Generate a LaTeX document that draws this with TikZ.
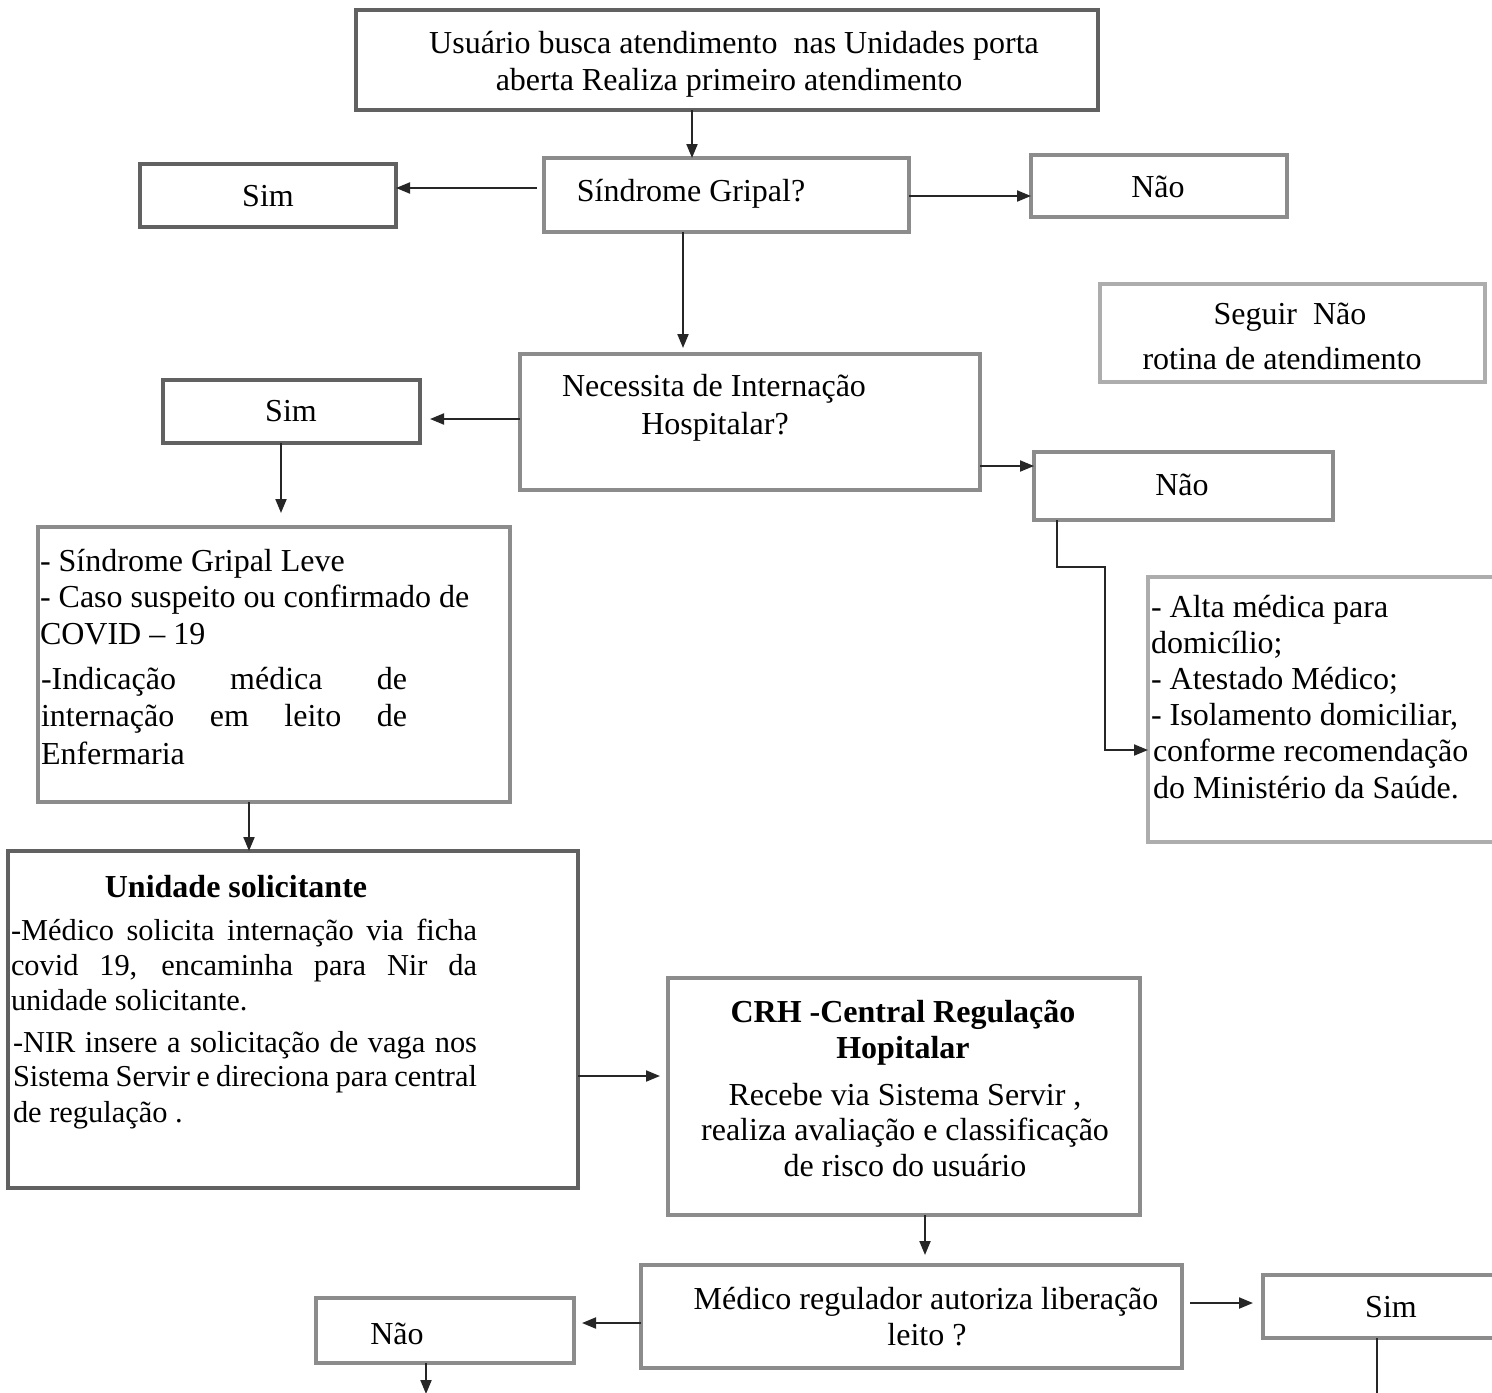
\documentclass[tikz,border=0pt]{standalone}
\usepackage{fontspec}
\setmainfont{Liberation Serif}
\usetikzlibrary{fit,arrows.meta}
\definecolor{bdark}{gray}{0.38}
\definecolor{bgray}{gray}{0.55}
\definecolor{blight}{gray}{0.68}
\tikzset{
  box/.style={draw=bgray, line width=2pt, inner sep=0pt, outer sep=0pt},
  boxd/.style={box, draw=bdark},
  boxl/.style={box, draw=blight},
  txt/.style={inner sep=0pt, outer sep=0pt, font=\fontsize{16}{18}\selectfont},
  stxt/.style={txt, font=\fontsize{15.2}{18}\selectfont},
  btxt/.style={txt, font=\fontsize{16}{18}\selectfont\bfseries},
  arr/.style={draw=black!85, line width=1pt, -{Triangle[length=7pt,width=5.5pt]}},
  ln/.style={draw=black!85, line width=1pt}
}
\begin{document}
\begin{tikzpicture}[x=0.5pt,y=-0.5pt]
\useasboundingbox (0,0) rectangle (1492,1392);
\clip (0,0) rectangle (1492,1392);
% boxes
\node[boxd, fit={(356,10)(1098,110)}] (top) {};
\node[box, fit={(544,158)(909,232)}] (sg) {};
\node[boxd, fit={(140,164)(396,227)}] (sim1) {};
\node[box, fit={(1031,155)(1287,217)}] (nao1) {};
\node[boxl, fit={(1100,284)(1485,382)}] (seg) {};
\node[box, fit={(520,354)(980,490)}] (nec) {};
\node[boxd, fit={(163,380)(420,443)}] (sim2) {};
\node[box, fit={(1034,452)(1333,520)}] (nao2) {};
\node[box, fit={(38,527)(510,802)}] (sgl) {};
\node[boxl, fit={(1148,577)(1510,842)}] (alta) {};
\node[boxd, fit={(8,851)(578,1188)}] (uni) {};
\node[box, fit={(668,978)(1140,1215)}] (crh) {};
\node[box, fit={(641,1265)(1182,1368)}] (med) {};
\node[box, fit={(316,1298)(574,1363)}] (nao3) {};
\node[box, fit={(1263,1275)(1510,1338)}] (sim3) {};
% texts
\node[txt, anchor=base] (t1a) at (734,54) {Usuário busca atendimento\ \ nas Unidades porta};
\node[txt, anchor=base] (t1b) at (729,90) {aberta Realiza primeiro atendimento};
\node[txt, anchor=base] (tsg) at (691,201) {Síndrome Gripal?};
\node[txt, anchor=base] (tsim1) at (268,206) {Sim};
\node[txt, anchor=base] (tnao1) at (1158,197) {Não};
\node[txt, anchor=base] (tseg1) at (1290,324) {Seguir\ \ Não};
\node[txt, anchor=base] (tseg2) at (1282,369) {rotina de atendimento};
\node[txt, anchor=base] (tnec1) at (714,396) {Necessita de Internação};
\node[txt, anchor=base] (tnec2) at (715,434) {Hospitalar?};
\node[txt, anchor=base] (tsim2) at (291,421) {Sim};
\node[txt, anchor=base] (tnao2) at (1182,495) {Não};
\node[txt, anchor=base west] (tsgl1) at (40,571) {- Síndrome Gripal Leve};
\node[txt, anchor=base west] (tsgl2) at (40,607) {- Caso suspeito ou confirmado de};
\node[txt, anchor=base west] (tsgl3) at (40,644) {COVID – 19};
\node[txt, anchor=base west] (tsgl4) at (41,689) {\makebox[183pt][s]{-Indicação médica de}};
\node[txt, anchor=base west] (tsgl5) at (41,726) {\makebox[183pt][s]{internação em leito de}};
\node[txt, anchor=base west] (tsgl6) at (41,764) {Enfermaria};
\node[txt, anchor=base west] (ta1) at (1151,617) {- Alta médica para};
\node[txt, anchor=base west] (ta2) at (1151,653) {domicílio;};
\node[txt, anchor=base west] (ta3) at (1151,689) {- Atestado Médico;};
\node[txt, anchor=base west] (ta4) at (1151,725) {- Isolamento domiciliar,};
\node[txt, anchor=base west] (ta5) at (1153,761) {conforme recomendação};
\node[txt, anchor=base west] (ta6) at (1153,798) {do Ministério da Saúde.};
\node[btxt, anchor=base] (tu0) at (236,897) {Unidade solicitante};
\node[stxt, anchor=base west] (tu1) at (11,940) {\makebox[233pt][s]{-Médico solicita internação via ficha}};
\node[stxt, anchor=base west] (tu2) at (11,975) {\makebox[233pt][s]{covid 19, encaminha para Nir da}};
\node[stxt, anchor=base west] (tu3) at (11,1010) {unidade solicitante.};
\node[stxt, anchor=base west] (tu4) at (13,1052) {\makebox[232pt][s]{-NIR insere a solicitação de vaga nos}};
\node[stxt, anchor=base west] (tu5) at (13,1086) {\makebox[232pt][s]{Sistema Servir e direciona para central}};
\node[stxt, anchor=base west] (tu6) at (13,1122) {de regulação .};
\node[btxt, anchor=base] (tc1) at (903,1022) {CRH -Central Regulação};
\node[btxt, anchor=base] (tc2) at (903,1058) {Hopitalar};
\node[txt, anchor=base] (tc3) at (905,1105) {Recebe via Sistema Servir ,};
\node[txt, anchor=base] (tc4) at (905,1140) {realiza avaliação e classificação};
\node[txt, anchor=base] (tc5) at (905,1176) {de risco do usuário};
\node[txt, anchor=base] (tm1) at (926,1309) {Médico regulador autoriza liberação};
\node[txt, anchor=base] (tm2) at (927,1345) {leito ?};
\node[txt, anchor=base] (tnao3) at (397,1344) {Não};
\node[txt, anchor=base] (tsim3) at (1391,1317) {Sim};
% connectors
\coordinate (endA) at (426,1394);
\coordinate (endB) at (1377,1394);
\draw[arr] (692,0 |- top.south) -- (692,0 |- sg.north);
\draw[arr, shorten <=3.5pt] (sg.west |- 0,188) -- (sim1.east |- 0,188);
\draw[arr] (sg.east |- 0,196) -- (nao1.west |- 0,196);
\draw[arr, shorten >=3pt] (683,0 |- sg.south) -- (683,0 |- nec.north);
\draw[arr, shorten >=5pt] (nec.west |- 0,419) -- (sim2.east |- 0,419);
\draw[arr] (nec.east |- 0,466) -- (nao2.west |- 0,466);
\draw[arr, shorten >=7pt] (281,0 |- sim2.south) -- (281,0 |- sgl.north);
\draw[arr] (1057,0 |- nao2.south) -- (1057,567) -- (1105,567) -- (1105,750) -- (alta.west |- 0,750);
\draw[arr] (249,0 |- sgl.south) -- (249,0 |- uni.north);
\draw[arr, shorten >=4pt] (uni.east |- 0,1076) -- (crh.west |- 0,1076);
\draw[arr, shorten >=5pt] (925,0 |- crh.south) -- (925,0 |- med.north);
\draw[arr, shorten >=4pt] (med.west |- 0,1323) -- (nao3.east |- 0,1323);
\draw[arr, shorten <=4pt, shorten >=5pt] (med.east |- 0,1303) -- (sim3.west |- 0,1303);
\draw[arr] (426,0 |- nao3.south) -- (endA);
\draw[ln] (1377,0 |- sim3.south) -- (endB);
\end{tikzpicture}
\end{document}
